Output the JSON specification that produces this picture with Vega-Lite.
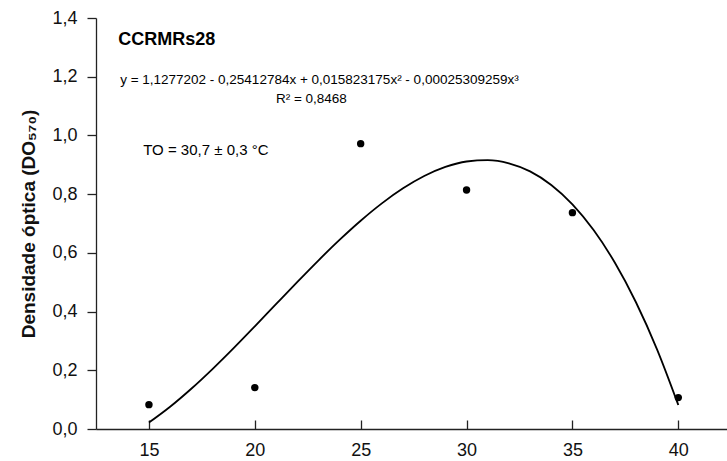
{
  "$schema": "https://vega.github.io/schema/vega-lite/v6.json",
  "width": 631,
  "height": 411,
  "autosize": {"type": "none"},
  "padding": {"left": 96, "top": 18, "right": 0, "bottom": 32},
  "background": "white",
  "config": {
    "view": {"stroke": null},
    "font": "Liberation Sans",
    "axis": {
      "grid": false,
      "domainColor": "#222",
      "domainWidth": 1.3,
      "tickColor": "#222",
      "tickWidth": 1.3,
      "labelColor": "#111",
      "labelFontSize": 18,
      "labelFont": "Liberation Sans",
      "titleFont": "Liberation Sans",
      "titleColor": "#111"
    }
  },
  "datasets": {
    "curve": [
      {"temp": 15, "od": 0.0218},
      {"temp": 16, "od": 0.0757},
      {"temp": 17, "od": 0.1370},
      {"temp": 18, "od": 0.2041},
      {"temp": 19, "od": 0.2755},
      {"temp": 20, "od": 0.3497},
      {"temp": 21, "od": 0.4252},
      {"temp": 22, "od": 0.5004},
      {"temp": 23, "od": 0.5739},
      {"temp": 24, "od": 0.6440},
      {"temp": 25, "od": 0.7094},
      {"temp": 26, "od": 0.7685},
      {"temp": 27, "od": 0.8197},
      {"temp": 28, "od": 0.8616},
      {"temp": 29, "od": 0.8926},
      {"temp": 30, "od": 0.9112},
      {"temp": 31, "od": 0.9159},
      {"temp": 32, "od": 0.9052},
      {"temp": 33, "od": 0.8776},
      {"temp": 34, "od": 0.8314},
      {"temp": 35, "od": 0.7653},
      {"temp": 36, "od": 0.6777},
      {"temp": 37, "od": 0.5670},
      {"temp": 38, "od": 0.4318},
      {"temp": 39, "od": 0.2706},
      {"temp": 40, "od": 0.0818}
    ],
    "obs": [
      {"temp": 15, "od": 0.083},
      {"temp": 20, "od": 0.141},
      {"temp": 25, "od": 0.972},
      {"temp": 30, "od": 0.814},
      {"temp": 35, "od": 0.737},
      {"temp": 40, "od": 0.107}
    ],
    "strain": [{"temp": 13.55, "od": 1.326, "label": "CCRMRs28"}],
    "equation": [{"temp": 13.64, "od": 1.19, "label": "y = 1,1277202 - 0,25412784x + 0,015823175x² - 0,00025309259x³"}],
    "r2": [{"temp": 22.67, "od": 1.125, "label": "R² = 0,8468"}],
    "optimum": [{"temp": 14.73, "od": 0.951, "label": "TO = 30,7 ± 0,3 °C"}]
  },
  "encoding": {
    "x": {
      "field": "temp",
      "type": "quantitative",
      "scale": {"domain": [12.5, 42.3], "nice": false, "zero": false},
      "axis": {
        "title": null,
        "values": [15, 20, 25, 30, 35, 40],
        "tickSize": -9,
        "labelPadding": 21
      }
    },
    "y": {
      "field": "od",
      "type": "quantitative",
      "scale": {"domain": [0, 1.4], "nice": false},
      "axis": {
        "title": "Densidade óptica (DO₅₇₀)",
        "titleFontSize": 19,
        "titleFontWeight": "bold",
        "titlePadding": 13,
        "values": [0, 0.2, 0.4, 0.6, 0.8, 1.0, 1.2, 1.4],
        "labelExpr": "replace(format(datum.value, '.1f'), '.', ',')",
        "tickSize": 9,
        "labelPadding": 10
      }
    }
  },
  "layer": [
    {
      "mark": {"type": "rule", "color": "#222", "strokeWidth": 1.3},
      "encoding": {"y": {"datum": 1.4}, "x": null}
    },
    {
      "data": {"name": "curve"},
      "mark": {"type": "line", "color": "#000", "strokeWidth": 1.8, "interpolate": "monotone"}
    },
    {
      "data": {"name": "obs"},
      "mark": {"type": "point", "filled": true, "color": "#000", "opacity": 1, "size": 55, "shape": "circle"}
    },
    {
      "data": {"name": "strain"},
      "mark": {"type": "text", "align": "left", "baseline": "middle", "fontSize": 18, "fontWeight": "bold", "color": "#000"},
      "encoding": {"text": {"field": "label"}}
    },
    {
      "data": {"name": "equation"},
      "mark": {"type": "text", "align": "left", "baseline": "middle", "fontSize": 13.5, "color": "#000"},
      "encoding": {"text": {"field": "label"}}
    },
    {
      "data": {"name": "r2"},
      "mark": {"type": "text", "align": "center", "baseline": "middle", "fontSize": 13.5, "color": "#000"},
      "encoding": {"text": {"field": "label"}}
    },
    {
      "data": {"name": "optimum"},
      "mark": {"type": "text", "align": "left", "baseline": "middle", "fontSize": 15, "color": "#000"},
      "encoding": {"text": {"field": "label"}}
    }
  ]
}
